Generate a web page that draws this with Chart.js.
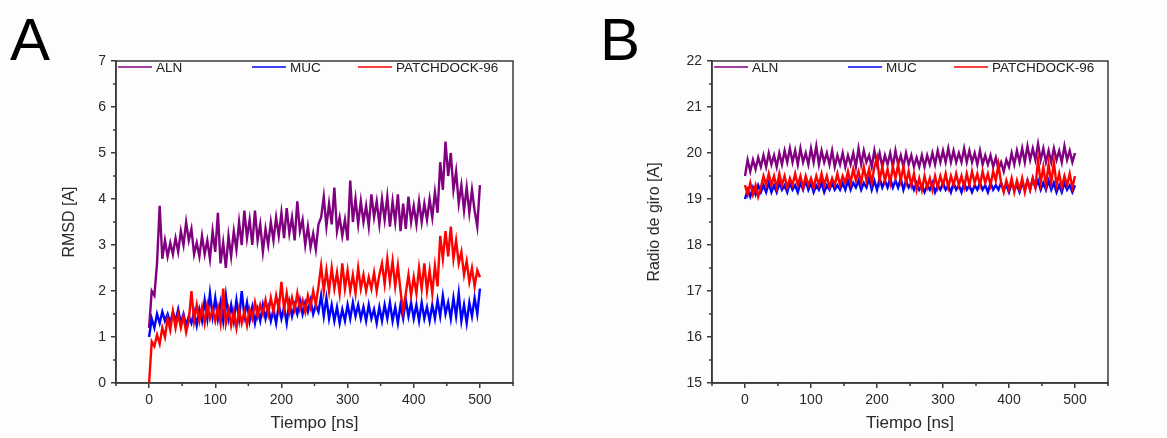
<!DOCTYPE html>
<html>
<head>
<meta charset="utf-8">
<script src="https://cdn.jsdelivr.net/npm/chart.js@4.4.0/dist/chart.umd.min.js"></script>
<style>
  body { margin: 0; background: #fdfdfd; width: 1167px; height: 438px; overflow: hidden; position: relative; }
  .tag { position: absolute; top: 10px; font: 60px/60px "Liberation Sans", Arial, sans-serif; color: #000; }
  canvas { position: absolute; top: 0; }
</style>
</head>
<body>
<div class="tag" style="left:10px">A</div>
<div class="tag" style="left:600px">B</div>
<canvas id="rmsdChart" width="580" height="438" style="left:0"></canvas>
<canvas id="rgChart" width="577" height="438" style="left:590px"></canvas>
<script>
// --- Datos ---
const seriesNames = ['ALN', 'MUC', 'PATCHDOCK-96'];
const seriesColors = ['#800080', '#0000ff', '#ff0000'];
const timeTicks = [0, 100, 200, 300, 400, 500];
const rmsdTicks = [0, 1, 2, 3, 4, 5, 6, 7];
const rgTicks = [15, 16, 17, 18, 19, 20, 21, 22];
// muestreo cada 4 ns, de 0 a 500 ns
const timeNs = Array.from({ length: 126 }, (_, i) => i * 4);

// RMSD [A]
const alnRmsd = [
  1.2, 2.0, 1.9, 2.6, 3.85, 2.7, 3.1, 2.75, 3.05, 2.8,
  3.15, 2.85, 3.3, 3.0, 3.5, 3.1, 3.35, 2.8, 3.05, 2.75,
  3.2, 2.8, 3.1, 2.7, 3.3, 2.85, 3.7, 2.6, 3.05, 2.5,
  3.2, 2.75, 3.3, 2.9, 3.5, 3.0, 3.75, 3.15, 3.55, 3.0,
  3.75, 3.1, 3.45, 2.85, 3.35, 3.0, 3.5, 3.1, 3.6, 3.2,
  3.7, 3.15, 3.8, 3.25, 3.6, 3.1, 3.95, 3.3, 3.55, 3.0,
  3.4, 2.95, 3.25, 2.9, 3.45, 3.6, 4.05, 3.4, 3.9, 3.45,
  4.25, 3.3, 3.6, 3.2, 3.55, 3.1, 4.4, 3.5, 4.0, 3.45,
  3.95, 3.5, 3.85, 3.4, 4.1, 3.6, 3.95, 3.45, 4.0, 3.55,
  4.05, 3.4, 3.95, 3.5, 4.1, 3.3, 3.9, 3.35, 4.05, 3.5,
  3.85, 3.45, 3.95, 3.5, 3.9, 3.55, 4.0, 3.6, 4.15, 3.7,
  4.8, 4.2, 5.25, 4.5, 5.0, 4.2, 4.6, 3.9, 4.3, 3.75,
  4.25, 3.7, 4.2, 3.75, 3.4, 4.3
];
const mucRmsd = [
  1.0, 1.4, 1.2, 1.5, 1.3, 1.55, 1.35, 1.5, 1.3, 1.55,
  1.35, 1.6, 1.3, 1.5, 1.25, 1.45, 1.3, 1.55, 1.25, 1.6,
  1.35, 1.8, 1.4, 1.95, 1.45, 1.85, 1.4, 1.75, 1.35, 1.9,
  1.4, 1.7, 1.35, 1.8, 1.4, 2.0, 1.45, 1.75, 1.35, 1.65,
  1.3, 1.6, 1.35, 1.7, 1.4, 1.65, 1.35, 1.6, 1.3, 1.7,
  1.4, 1.65, 1.3, 1.75, 1.45, 1.7, 1.5, 1.8, 1.5, 1.75,
  1.55, 1.8, 1.5, 1.7, 1.55, 1.9, 1.45, 1.85, 1.4, 1.7,
  1.35, 1.65, 1.3, 1.6, 1.35, 1.7, 1.4, 1.75, 1.45, 1.7,
  1.4, 1.65, 1.35, 1.7, 1.4, 1.6, 1.3, 1.65, 1.35, 1.7,
  1.4, 1.75, 1.35, 1.65, 1.3, 1.7, 1.4, 1.8, 1.45, 1.75,
  1.4, 1.7, 1.35, 1.75, 1.4, 1.65, 1.35, 1.7, 1.4, 1.8,
  1.45, 1.9, 1.5, 1.75, 1.4, 1.85, 1.45, 1.95, 1.35, 1.7,
  1.3, 1.75, 1.45, 1.85, 1.5, 2.05
];
const pdkRmsd = [
  0.0, 0.9, 0.8, 1.05, 0.85, 1.2, 1.0, 1.4, 1.15, 1.55,
  1.2, 1.5, 1.2, 1.45, 1.1, 1.35, 2.0, 1.35, 1.7, 1.35,
  1.65, 1.3, 1.7, 1.4, 1.6, 1.35, 1.65, 1.3, 2.05, 1.3,
  1.6, 1.25, 1.55, 1.2, 1.6, 1.3, 1.55, 1.25, 1.6, 1.4,
  1.75, 1.45, 1.7, 1.5, 1.8, 1.5, 1.85, 1.55, 1.9, 1.6,
  2.2, 1.6, 1.95, 1.55, 1.85, 1.6, 1.95, 1.6, 1.8, 1.55,
  1.9, 1.65, 2.0, 1.7, 2.1, 2.55, 2.0, 2.45, 2.0, 2.5,
  2.05, 2.4, 1.95, 2.6, 2.05, 2.45, 2.0, 2.35, 1.95, 2.5,
  2.05, 2.35, 2.0, 2.3, 2.05, 2.4, 2.0, 2.35, 2.6, 2.15,
  2.7, 2.2, 2.65, 2.1, 2.55, 2.0, 1.55, 1.95, 2.35, 1.9,
  2.3, 1.95, 2.5, 2.05, 2.6, 2.0, 2.45, 1.95, 2.55, 2.1,
  3.2, 2.7, 3.3, 2.75, 3.4, 2.7, 3.1, 2.6, 2.85, 2.35,
  2.65, 2.2, 2.5, 2.1, 2.45, 2.3
];

// Radio de giro [A]
const alnRg = [
  19.5, 19.85, 19.6, 19.85, 19.65, 19.9, 19.7, 19.95, 19.7, 20.0,
  19.75, 19.95, 19.7, 20.0, 19.75, 20.05, 19.8, 20.1, 19.8, 20.05,
  19.75, 20.1, 19.8, 20.0, 19.75, 20.1, 19.8, 20.15, 19.75, 20.05,
  19.8, 20.0, 19.75, 20.05, 19.7, 19.95, 19.75, 20.0, 19.7, 19.95,
  19.75, 20.0, 19.7, 20.1, 19.75, 20.05, 19.8, 19.95, 19.7, 20.05,
  19.75, 20.0, 19.7, 19.95, 19.75, 20.0, 19.7, 20.05, 19.75, 19.95,
  19.7, 20.0, 19.75, 19.95, 19.7, 19.9, 19.7, 19.95, 19.7, 19.95,
  19.75, 20.0, 19.75, 20.05, 19.8, 20.05, 19.8, 20.1, 19.8, 20.05,
  19.8, 20.0, 19.8, 20.1, 19.8, 20.05, 19.8, 20.0, 19.75, 20.05,
  19.75, 19.95, 19.75, 19.95, 19.7, 19.9, 19.65, 19.8, 19.6, 19.85,
  19.7, 20.0, 19.75, 20.05, 19.8, 20.1, 19.8, 20.15, 19.85, 20.1,
  19.85, 20.2, 19.85, 20.1, 19.8, 20.05, 19.8, 20.1, 19.85, 20.05,
  19.8, 20.15, 19.85, 20.05, 19.8, 20.0
];
const mucRg = [
  19.0, 19.2, 19.05, 19.25, 19.1, 19.3, 19.15, 19.3, 19.15, 19.35,
  19.15, 19.3, 19.15, 19.35, 19.2, 19.3, 19.15, 19.35, 19.2, 19.3,
  19.15, 19.35, 19.2, 19.4, 19.2, 19.35, 19.15, 19.3, 19.2, 19.35,
  19.15, 19.3, 19.2, 19.35, 19.2, 19.3, 19.2, 19.35, 19.2, 19.4,
  19.2, 19.35, 19.25, 19.4, 19.2, 19.35, 19.25, 19.45, 19.2, 19.4,
  19.2, 19.45, 19.25, 19.4, 19.25, 19.45, 19.25, 19.4, 19.25, 19.45,
  19.2, 19.4, 19.25, 19.35, 19.2, 19.35, 19.2, 19.3, 19.15, 19.3,
  19.2, 19.35, 19.15, 19.3, 19.2, 19.35, 19.2, 19.3, 19.15, 19.35,
  19.2, 19.3, 19.15, 19.35, 19.2, 19.3, 19.15, 19.3, 19.2, 19.35,
  19.2, 19.3, 19.15, 19.35, 19.2, 19.3, 19.2, 19.35, 19.2, 19.3,
  19.15, 19.35, 19.2, 19.3, 19.15, 19.35, 19.2, 19.4, 19.2, 19.45,
  19.25, 19.4, 19.2, 19.35, 19.2, 19.4, 19.2, 19.35, 19.15, 19.3,
  19.15, 19.35, 19.2, 19.3, 19.15, 19.3
];
const pdkRg = [
  19.3, 19.1, 19.35, 19.1, 19.3, 19.05, 19.25, 19.5, 19.3, 19.55,
  19.3, 19.5, 19.25, 19.55, 19.3, 19.5, 19.25, 19.45, 19.3, 19.55,
  19.3, 19.5, 19.25, 19.5, 19.3, 19.45, 19.25, 19.5, 19.3, 19.55,
  19.3, 19.5, 19.25, 19.45, 19.3, 19.55, 19.3, 19.5, 19.35, 19.6,
  19.35, 19.65, 19.4, 19.6, 19.35, 19.7, 19.4, 19.65, 19.35, 19.7,
  19.9, 19.4, 19.7, 19.4, 19.65, 19.35, 19.7, 19.45, 19.75, 19.4,
  19.7, 19.35, 19.6, 19.3, 19.55, 19.2, 19.45, 19.2, 19.5, 19.25,
  19.45, 19.2, 19.5, 19.25, 19.5, 19.3, 19.55, 19.25, 19.5, 19.3,
  19.55, 19.3, 19.5, 19.25, 19.55, 19.3, 19.6, 19.35, 19.55, 19.3,
  19.6, 19.35, 19.55, 19.3, 19.6, 19.4, 19.75, 19.35, 19.15, 19.4,
  19.2, 19.45, 19.15, 19.4, 19.2, 19.45, 19.15, 19.4, 19.2, 19.45,
  19.25, 19.85, 19.35, 19.7, 19.3, 19.75, 19.35, 19.8, 19.3, 19.55,
  19.25, 19.5, 19.3, 19.55, 19.25, 19.5
];

// --- Estilo ---
const FONT = '"Liberation Sans", Arial, sans-serif';
const AXIS = '#3a3a3a';
Chart.defaults.font.family = FONT;
Chart.defaults.color = '#2a2a2a';

// marco completo, ticks menores y leyenda dentro del área
const framePlugin = {
  id: 'frame',
  afterDraw(chart, args, opts) {
    const { ctx, chartArea: a } = chart;
    const xs = chart.scales.x, ys = chart.scales.y;
    ctx.save();
    ctx.strokeStyle = AXIS;
    ctx.lineWidth = 1.5;
    ctx.strokeRect(a.left, a.top, a.right - a.left, a.bottom - a.top);

    ctx.beginPath();
    [-50, 50, 150, 250, 350, 450, 550].forEach(v => {
      const px = xs.getPixelForValue(v);
      ctx.moveTo(px, a.bottom);
      ctx.lineTo(px, a.bottom + 3);
    });
    const yt = opts.yTicks;
    for (let i = 1; i < yt.length; i++) {
      const py = ys.getPixelForValue((yt[i] + yt[i - 1]) / 2);
      ctx.moveTo(a.left, py);
      ctx.lineTo(a.left - 3, py);
    }
    ctx.stroke();

    const offs = [2, 136, 242];
    ctx.font = '13.5px ' + FONT;
    ctx.textBaseline = 'middle';
    chart.data.datasets.forEach((ds, i) => {
      const lx = a.left + offs[i], ly = a.top + 6;
      ctx.strokeStyle = ds.borderColor;
      ctx.lineWidth = 1.5;
      ctx.beginPath();
      ctx.moveTo(lx, ly);
      ctx.lineTo(lx + 34, ly);
      ctx.stroke();
      ctx.fillStyle = '#222';
      ctx.fillText(ds.label, lx + 38, ly + 1);
    });
    ctx.restore();
  }
};

function buildChart(id, values, yTicks, yTitle, yWidth, padRight, titlePad) {
  const ctx = document.getElementById(id).getContext('2d');
  return new Chart(ctx, {
    type: 'line',
    data: {
      datasets: values.map((vals, i) => ({
        label: seriesNames[i],
        data: timeNs.map((t, k) => ({ x: t, y: vals[k] })),
        borderColor: seriesColors[i],
        borderWidth: 2.4,
        borderJoinStyle: 'miter',
        pointRadius: 0,
        tension: 0,
        order: 3 - i
      }))
    },
    options: {
      responsive: false,
      animation: false,
      layout: { padding: { top: 61, right: padRight, bottom: 0, left: 0 } },
      plugins: { legend: { display: false }, tooltip: { enabled: false }, frame: { yTicks } },
      scales: {
        x: {
          type: 'linear',
          min: -50, max: 550,
          afterBuildTicks: s => { s.ticks = timeTicks.map(v => ({ value: v })); },
          afterFit: s => { s.height = 55; },
          grid: { drawOnChartArea: false, drawTicks: true, tickLength: 5, color: AXIS, lineWidth: 1.5 },
          border: { color: AXIS, width: 1.5 },
          ticks: { font: { size: 14 }, padding: 4, maxRotation: 0 },
          title: { display: true, text: 'Tiempo [ns]', font: { size: 17 }, padding: { top: 0, bottom: 4 } }
        },
        y: {
          min: yTicks[0], max: yTicks[yTicks.length - 1],
          afterBuildTicks: s => { s.ticks = yTicks.map(v => ({ value: v })); },
          afterFit: s => { s.width = yWidth; },
          grid: { drawOnChartArea: false, drawTicks: true, tickLength: 5, color: AXIS, lineWidth: 1.5 },
          border: { color: AXIS, width: 1.5 },
          ticks: { font: { size: 14 }, padding: 5 },
          title: { display: true, text: yTitle, font: { size: 16 }, padding: { top: titlePad, bottom: 0 } }
        }
      }
    },
    plugins: [framePlugin]
  });
}

buildChart('rmsdChart', [alnRmsd, mucRmsd, pdkRmsd], rmsdTicks, 'RMSD [A]', 116, 67, 60);
buildChart('rgChart', [alnRg, mucRg, pdkRg], rgTicks, 'Radio de giro [A]', 122, 59, 55);
</script>
</body>
</html>
